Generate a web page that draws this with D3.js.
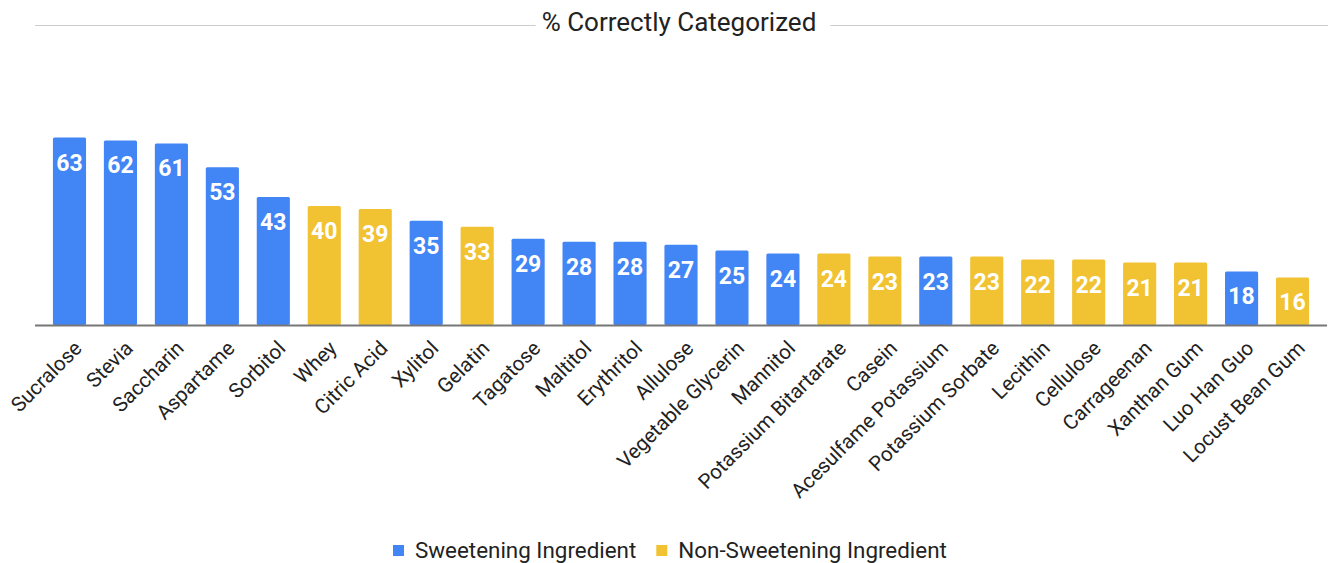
<!DOCTYPE html>
<html>
<head>
<meta charset="utf-8">
<script src="https://cdn.jsdelivr.net/npm/d3@7"></script>
<style>
  html, body { margin: 0; padding: 0; background: #fff; }
  svg { display: block; font-family: Roboto, "Noto Sans", sans-serif; }
</style>
</head>
<body>
<svg id="chart" width="1328" height="563"></svg>
<script>
// Ingredients in display order
const categories = [
  "Sucralose", "Stevia", "Saccharin", "Aspartame", "Sorbitol", "Whey",
  "Citric Acid", "Xylitol", "Gelatin", "Tagatose", "Maltitol", "Erythritol",
  "Allulose", "Vegetable Glycerin", "Mannitol", "Potassium Bitartarate",
  "Casein", "Acesulfame Potassium", "Potassium Sorbate", "Lecithin",
  "Cellulose", "Carrageenan", "Xanthan Gum", "Luo Han Guo", "Locust Bean Gum"
];
// % correctly categorized
const values = [63, 62, 61, 53, 43, 40, 39, 35, 33, 29, 28, 28, 27, 25, 24, 24, 23, 23, 23, 22, 22, 21, 21, 18, 16];
// Ingredient group for each bar
const groups = [
  "Sweetening Ingredient", "Sweetening Ingredient", "Sweetening Ingredient",
  "Sweetening Ingredient", "Sweetening Ingredient", "Non-Sweetening Ingredient",
  "Non-Sweetening Ingredient", "Sweetening Ingredient", "Non-Sweetening Ingredient",
  "Sweetening Ingredient", "Sweetening Ingredient", "Sweetening Ingredient",
  "Sweetening Ingredient", "Sweetening Ingredient", "Sweetening Ingredient",
  "Non-Sweetening Ingredient", "Non-Sweetening Ingredient", "Sweetening Ingredient",
  "Non-Sweetening Ingredient", "Non-Sweetening Ingredient", "Non-Sweetening Ingredient",
  "Non-Sweetening Ingredient", "Non-Sweetening Ingredient", "Sweetening Ingredient",
  "Non-Sweetening Ingredient"
];
const legendLabels = ["Sweetening Ingredient", "Non-Sweetening Ingredient"];
const title = "% Correctly Categorized";

const data = categories.map((c, i) => ({ name: c, value: values[i], group: groups[i] }));

const svg = d3.select("#chart");
const W = 1328, H = 563;

const color = d3.scaleOrdinal().domain(legendLabels).range(["#4285f4", "#f1c232"]);

const x = d3.scaleBand().domain(categories).range([44, 1318]).paddingInner(0.35).paddingOuter(0.175);
const baseY = 325;
const y = d3.scaleLinear().domain([0, 63]).range([baseY, 137.5]);

// Title with rule lines either side
const titleX = 679;
const titleText = svg.append("text")
  .attr("x", titleX).attr("y", 31)
  .attr("text-anchor", "middle")
  .attr("font-size", 26)
  .attr("fill", "#222")
  .text(title);
const tw = titleText.node().getComputedTextLength();
svg.append("line").attr("x1", 35).attr("x2", titleX - tw / 2 - 6).attr("y1", 25.5).attr("y2", 25.5)
  .attr("stroke", "#cccccc").attr("stroke-width", 1);
svg.append("line").attr("x1", titleX + tw / 2 + 14).attr("x2", W).attr("y1", 25.5).attr("y2", 25.5)
  .attr("stroke", "#cccccc").attr("stroke-width", 1);

// Bars
svg.append("g").selectAll("rect").data(data).join("rect")
  .attr("x", d => x(d.name))
  .attr("y", d => y(d.value))
  .attr("width", x.bandwidth())
  .attr("height", d => baseY - y(d.value))
  .attr("rx", 1.5)
  .attr("fill", d => color(d.group));

// Value labels inside bar tops
svg.append("g").selectAll("text").data(data).join("text")
  .attr("x", d => x(d.name) + x.bandwidth() / 2)
  .attr("y", d => y(d.value) + 33)
  .attr("text-anchor", "middle")
  .attr("font-size", 23)
  .attr("font-weight", "bold")
  .attr("fill", "#fff")
  .text(d => d.value);

// Category axis along the baseline
const xAxis = d3.axisBottom(x).tickSize(0).tickPadding(0);
const axisG = svg.append("g").attr("transform", `translate(0,${baseY})`).call(xAxis);
axisG.select(".domain").remove();
axisG.selectAll(".tick text")
  .attr("font-family", "Roboto, sans-serif")
  .attr("font-size", 20.5)
  .attr("fill", "#222")
  .attr("text-anchor", "end")
  .attr("dy", "0.35em")
  .attr("transform", "translate(8.5,19.5) rotate(-45)");
svg.append("line").attr("x1", 35).attr("x2", 1327).attr("y1", baseY + 0.5).attr("y2", baseY + 0.5)
  .attr("stroke", "#777").attr("stroke-width", 2);

// Legend
const legend = svg.append("g");
let lx = 393;
legendLabels.forEach(lbl => {
  legend.append("rect").attr("x", lx).attr("y", 545).attr("width", 11).attr("height", 11)
    .attr("fill", color(lbl));
  const t = legend.append("text").attr("x", lx + 22).attr("y", 558)
    .attr("font-size", 22.4).attr("fill", "#222").text(lbl);
  lx += 22 + t.node().getComputedTextLength() + 20;
});
</script>
</body>
</html>
